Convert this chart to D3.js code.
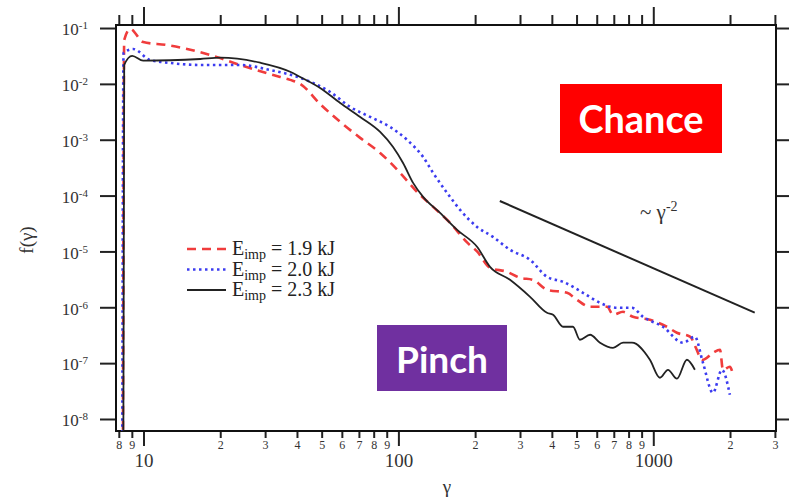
<!DOCTYPE html>
<html>
<head>
<meta charset="utf-8">
<script src="https://cdn.jsdelivr.net/npm/d3@7"></script>
<style>
  body { margin: 0; background: #fff; }
  svg { display: block; }
</style>
</head>
<body>
<svg id="chart" width="789" height="504"></svg>
<script>
// Electron energy distributions f(gamma) for three laser impulse energies

const redGamma = [8.3, 8.4, 8.87, 9.97, 12.3, 18.3, 23.9, 32.3, 37.6, 41.2, 49.3, 59.1, 70.8, 84.8,
  101.6, 118.4, 136.8, 159.5, 186, 203.5, 228.8, 266.7, 300, 337, 383, 459, 502, 565, 659, 695,
  761, 832, 970, 1130, 1238, 1393, 1566, 1714, 1827, 1876, 1997, 2050];
const redF = [1e-9, 6.1e-2, 9.6e-2, 5.6e-2, 4.97e-2, 3.29e-2, 2.18e-2, 1.44e-2, 1.18e-2, 1.0e-2,
  4.36e-3, 2.09e-3, 1.08e-3, 5.8e-4, 2.55e-4, 1.16e-4, 6.28e-5, 3.25e-5, 1.45e-5, 1.0e-5, 5.09e-6,
  4.32e-6, 3.37e-6, 3.1e-6, 2.06e-6, 1.82e-6, 1.36e-6, 1.02e-6, 1.02e-6, 7.35e-7, 8.3e-7, 6.76e-7,
  5.97e-7, 4.48e-7, 3.5e-7, 2.97e-7, 1.15e-7, 1.53e-7, 1.74e-7, 7.6e-8, 8.6e-8, 6.5e-8];

const blueGamma = [8.25, 8.35, 9.11, 10.6, 12.7, 16.7, 23.9, 31.4, 41.2, 54, 64.7, 77.5, 92.8,
  108.2, 125, 136.8, 155.2, 174.6, 203.5, 235, 274, 328.5, 382.8, 442.6, 530, 618, 720, 825, 911,
  1091, 1308, 1456, 1566, 1714, 1859, 1997];
const blueF = [1e-9, 3.6e-2, 4.2e-2, 2.68e-2, 2.37e-2, 2.18e-2, 2.18e-2, 1.77e-2, 1.28e-2, 7.16e-3,
  3.86e-3, 2.56e-3, 1.69e-3, 9.9e-4, 4.92e-4, 2.55e-4, 1.12e-4, 5.55e-5, 2.75e-5, 1.82e-5, 1.07e-5,
  7.08e-6, 3.52e-6, 2.86e-6, 1.82e-6, 1.2e-6, 9.8e-7, 9.8e-7, 6.76e-7, 4.48e-7, 2.32e-7, 2.97e-7,
  1.02e-7, 2.95e-8, 7.6e-8, 2.72e-8];

const blackGamma = [8.33, 8.4, 9.03, 9.97, 16.7, 20.0, 28.7, 37.6, 41.2, 49.3, 59.1, 70.8, 84.8,
  95.3, 104.3, 114.2, 125, 145.7, 170, 203.5, 228.8, 274, 328.5, 382.8, 404.4, 442.6, 484, 515.6,
  565, 618, 695, 761, 825, 970, 1062, 1142, 1238, 1355, 1456];
const blackF = [1e-9, 2.18e-2, 3.16e-2, 2.6e-2, 2.79e-2, 2.94e-2, 2.39e-2, 1.65e-2, 1.33e-2,
  8.45e-3, 4.55e-3, 2.56e-3, 1.38e-3, 7.43e-4, 3.84e-4, 1.69e-4, 9.5e-5, 4.9e-5, 2.43e-5, 1.21e-5,
  5.3e-6, 3.1e-6, 1.54e-6, 7.97e-7, 7.35e-7, 4.48e-7, 4.48e-7, 2.62e-7, 3.22e-7, 2.32e-7, 1.88e-7,
  2.32e-7, 2.32e-7, 1.15e-7, 5.48e-8, 7.6e-8, 5.26e-8, 1.15e-7, 7.6e-8];

// reference power law ~ gamma^-2
const slopeGamma = [250, 2500];
const slopeF = [8.0e-5, 8.0e-7];

const legendLabels = ["1.9", "2.0", "2.3"];
const xMajorTicks = [10, 100, 1000];
const xMinorTicks = [8, 9, 20, 30, 40, 50, 60, 70, 80, 90, 200, 300, 400, 500, 600, 700, 800, 900, 2000, 3000];
const yTicks = [1e-1, 1e-2, 1e-3, 1e-4, 1e-5, 1e-6, 1e-7, 1e-8];

// ---- layout ----
const svg = d3.select("#chart");
const L = 116, R = 776, T = 25, B = 431;
const x = d3.scaleLog().domain([7.8, 3030]).range([L, R]);
const y = d3.scaleLog().domain([Math.pow(10, -8.215), Math.pow(10, -0.946)]).range([B, T]);

const serif = "'Liberation Serif', 'Times New Roman', serif";
const textColor = "#333";

svg.append("defs").append("clipPath").attr("id", "plotClip")
  .append("rect").attr("x", L).attr("y", T).attr("width", R - L).attr("height", B - T);

// ---- axes ----
function styleAxis(g) {
  g.select(".domain").remove();
  g.selectAll(".tick line").attr("stroke", "#222").attr("stroke-width", 2);
  g.selectAll(".tick text").attr("fill", textColor).attr("font-family", serif);
}

// bottom: minor ticks with single-digit labels
svg.append("g").attr("transform", `translate(0,${B})`)
  .call(d3.axisBottom(x).tickValues(xMinorTicks).tickSize(7).tickPadding(2)
    .tickFormat(d => String(d).charAt(0)))
  .call(styleAxis)
  .call(g => g.selectAll(".tick text").attr("font-size", 12));

// bottom: major ticks with full labels
svg.append("g").attr("transform", `translate(0,${B})`)
  .call(d3.axisBottom(x).tickValues(xMajorTicks).tickSize(15).tickPadding(8)
    .tickFormat(d3.format("d")))
  .call(styleAxis)
  .call(g => g.selectAll(".tick text").attr("font-size", 19));

// top mirror ticks
svg.append("g").attr("transform", `translate(0,${T})`)
  .call(d3.axisTop(x).tickValues(xMinorTicks).tickSize(10).tickFormat(() => ""))
  .call(styleAxis);
svg.append("g").attr("transform", `translate(0,${T})`)
  .call(d3.axisTop(x).tickValues(xMajorTicks).tickSize(18).tickFormat(() => ""))
  .call(styleAxis);

// left ticks with power-of-ten labels
svg.append("g").attr("transform", `translate(${L},0)`)
  .call(d3.axisLeft(y).tickValues(yTicks).tickSize(16).tickPadding(12).tickFormat(() => ""))
  .call(styleAxis)
  .call(g => g.selectAll(".tick text").each(function (d) {
    const t = d3.select(this).attr("font-size", 17).attr("dy", "0.4em");
    t.append("tspan").text("10");
    t.append("tspan").attr("dy", "-0.55em").attr("font-size", 11).text(Math.round(Math.log10(d)));
  }));

// right mirror ticks
svg.append("g").attr("transform", `translate(${R},0)`)
  .call(d3.axisRight(y).tickValues(yTicks).tickSize(13).tickFormat(() => ""))
  .call(styleAxis);

// frame
svg.append("rect").attr("x", L).attr("y", T).attr("width", R - L).attr("height", B - T)
  .attr("fill", "none").attr("stroke", "#111").attr("stroke-width", 2);

// axis titles
svg.append("text").attr("x", 447).attr("y", 493).attr("text-anchor", "middle")
  .attr("font-family", serif).attr("font-size", 19).attr("fill", textColor).text("γ");
svg.append("text").attr("transform", "translate(33,240) rotate(-90)").attr("text-anchor", "middle")
  .attr("font-family", serif).attr("font-size", 19).attr("fill", textColor).text("f(γ)");

// ---- curves ----
const series = [
  { g: redGamma, f: redF, color: "#f03c3c", width: 2.6, dash: "9,6" },
  { g: blueGamma, f: blueF, color: "#3c3cf0", width: 2.6, dash: "2.5,3.5" },
  { g: blackGamma, f: blackF, color: "#222", width: 1.8, dash: null }
];
const line = d3.line().x(d => x(d[0])).y(d => y(d[1])).curve(d3.curveMonotoneX);
const plot = svg.append("g").attr("clip-path", "url(#plotClip)");
series.forEach(s => {
  plot.append("path").datum(d3.zip(s.g, s.f))
    .attr("d", line).attr("fill", "none")
    .attr("stroke", s.color).attr("stroke-width", s.width)
    .attr("stroke-dasharray", s.dash).attr("stroke-linejoin", "round");
});

// power-law guide
plot.append("path").datum(d3.zip(slopeGamma, slopeF))
  .attr("d", d3.line().x(d => x(d[0])).y(d => y(d[1])))
  .attr("stroke", "#222").attr("stroke-width", 2).attr("fill", "none");
const slopeLabel = svg.append("text").attr("x", 640).attr("y", 219)
  .attr("font-family", serif).attr("font-size", 21).attr("fill", textColor);
slopeLabel.append("tspan").text("~ γ");
slopeLabel.append("tspan").attr("dy", "-0.55em").attr("font-size", 14).text("-2");

// ---- legend ----
const legend = svg.append("g");
series.forEach((s, i) => {
  const ly = 249 + i * 20.5;
  legend.append("line").attr("x1", 187).attr("x2", 226).attr("y1", ly).attr("y2", ly)
    .attr("stroke", s.color).attr("stroke-width", s.width).attr("stroke-dasharray", s.dash);
  const t = legend.append("text").attr("x", 232).attr("y", ly + 6)
    .attr("font-family", serif).attr("font-size", 20).attr("fill", "#222");
  t.append("tspan").text("E");
  t.append("tspan").attr("dy", 4).attr("font-size", 14).text("imp");
  t.append("tspan").attr("dy", -4).text(` = ${legendLabels[i]} kJ`);
});

// ---- annotation boxes ----
function badge(x0, y0, w, h, fill, label, textW) {
  svg.append("rect").attr("x", x0).attr("y", y0).attr("width", w).attr("height", h).attr("fill", fill);
  const t = svg.append("text").attr("x", x0 + w / 2).attr("y", y0 + h / 2)
    .attr("text-anchor", "middle").attr("dominant-baseline", "central")
    .attr("font-family", "Lato, 'Open Sans', sans-serif").attr("font-weight", 700)
    .attr("font-size", 40).attr("fill", "#fff").text(label);
  const measured = t.node().getComputedTextLength();
  t.attr("font-size", 40 * textW / measured);
}
badge(560, 84, 162, 69, "#ff0000", "Chance", 125);
badge(377, 325, 130, 66, "#7030a0", "Pinch", 92);
</script>
</body>
</html>
